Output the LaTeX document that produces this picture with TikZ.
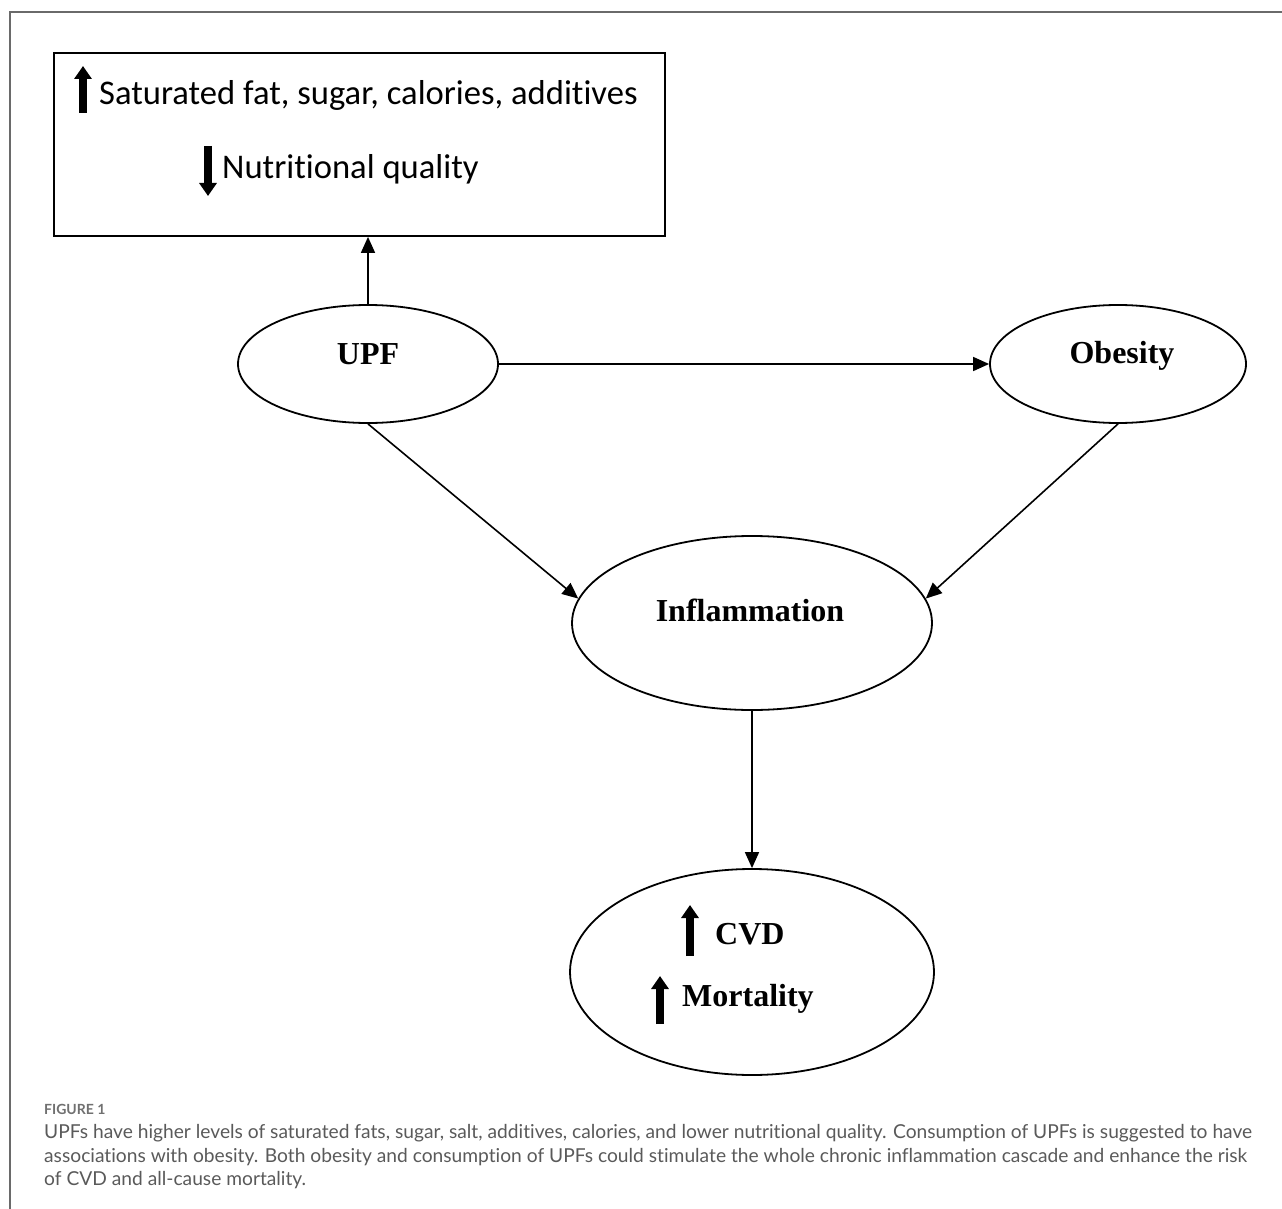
\documentclass[tikz,border=0pt]{standalone}
\usepackage{fontspec}
\setmainfont{Liberation Serif}
\newfontfamily\boxfont{Carlito}[Ligatures={NoCommon}]
\newfontfamily\capfont{Lato}[Ligatures={NoCommon}]
\usetikzlibrary{arrows.meta,shapes.geometric}
\definecolor{capgrey}{HTML}{5A5A5A}
\definecolor{figgrey}{HTML}{707070}
\definecolor{framegrey}{HTML}{6A6A6A}
\begin{document}
\begin{tikzpicture}[x=1pt,y=-1pt,
  ell/.style={draw, ellipse, line width=1.8pt, inner sep=0pt},
  conn/.style={line width=1.6pt, -{Triangle[length=16pt,width=14pt]}},
  glyph/.style={line width=7.5pt, -{Triangle[length=13pt,width=17pt]}},
  lbl/.style={font=\fontsize{32}{36}\selectfont\bfseries, inner sep=0pt},
  boxtxt/.style={font=\boxfont\fontsize{34.6}{40}\selectfont, inner sep=0pt, anchor=base west},
  captxt/.style={font=\capfont\fontsize{19.2}{22}\selectfont, text=capgrey, inner sep=0pt, anchor=west}]
\useasboundingbox[fill=white] (0,0) rectangle (1282,1209);
% outer frame
\coordinate (fbl) at (10,1209);
\coordinate (ftl) at (10,12);
\coordinate (ftr) at (1282,12);
\draw[framegrey, line width=1.5pt] (fbl) -- (ftl) -- (ftr);
% top box
\node[draw, line width=1.8pt, minimum width=611pt, minimum height=183pt, inner sep=0pt] (box) at (359.5,144.5) {};
\node[boxtxt] (sat) at (99,105) {Saturated fat, sugar, calories, additives};
\node[boxtxt] (nut) at (222,179) {Nutritional quality};
\coordinate (g1s) at (83,113);
\coordinate (g1e) at (83,66);
\draw[glyph] (g1s) -- (g1e);
\coordinate (g2s) at (208,146);
\coordinate (g2e) at (208,196);
\draw[glyph] (g2s) -- (g2e);
% ellipses
\node[ell, minimum width=260pt, minimum height=118pt] (upf) at (368,364) {};
\node[lbl] (upft) at (368,354) {UPF};
\node[ell, minimum width=256pt, minimum height=118pt] (obes) at (1118,364) {};
\node[lbl] (obest) at (1122,356) {Obesity};
\node[ell, minimum width=360pt, minimum height=174pt] (infl) at (752,623) {};
\node[lbl] (inflt) at (750,610) {Inflammation};
\node[ell, minimum width=364pt, minimum height=206pt] (cvd) at (752,972) {};
\node[lbl, anchor=west] (cvdt) at (715,934) {CVD};
\node[lbl, anchor=west] (mort) at (682,999) {Mortality};
\coordinate (g3s) at (690,956);
\coordinate (g3e) at (690,905);
\draw[glyph] (g3s) -- (g3e);
\coordinate (g4s) at (660,1024);
\coordinate (g4e) at (660,976);
\draw[glyph] (g4s) -- (g4e);
% connectors
\draw[conn] (upf.north) -- (upf.north |- box.south);
\draw[conn] (upf.east) -- (obes.west);
\draw[conn] (upf.south) -- (infl.172);
\draw[conn] (obes.south) -- (infl.8);
\draw[conn] (infl.south) -- (cvd.north);
% caption
\node[captxt, font=\capfont\bfseries\fontsize{14}{16}\selectfont, text=figgrey] (fig) at (44,1109) {FIGURE 1};
\node[captxt] (c1) at (44,1133) {UPFs have higher levels of saturated fats, sugar, salt, additives, calories, and lower nutritional quality. Consumption of UPFs is suggested to have};
\node[captxt] (c2) at (44,1157) {associations with obesity. Both obesity and consumption of UPFs could stimulate the whole chronic inflammation cascade and enhance the risk};
\node[captxt] (c3) at (44,1180) {of CVD and all-cause mortality.};
\end{tikzpicture}
\end{document}
